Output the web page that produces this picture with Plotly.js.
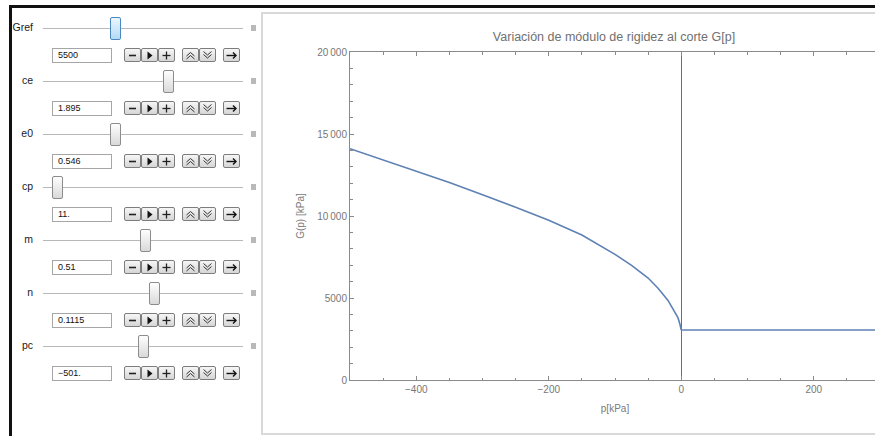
<!DOCTYPE html>
<html>
<head>
<meta charset="utf-8">
<script src="https://cdn.plot.ly/plotly-3.0.1.min.js"></script>
<style>
html,body{margin:0;padding:0;width:875px;height:436px;overflow:hidden;background:#fff;font-family:"Liberation Sans",Arial,sans-serif;}
#panel{position:absolute;left:261px;top:12px;width:800px;height:423px;border:2px solid #d9d9d9;box-sizing:border-box;z-index:0;}
#plot{position:absolute;left:0;top:0;width:900px;height:436px;z-index:1;}
#controls{position:absolute;left:0;top:0;width:258px;height:436px;z-index:2;}
.blk{position:absolute;background:#111;z-index:3;}
.lbl{position:absolute;left:0;width:33px;text-align:right;font-size:10.5px;line-height:14px;color:#1a1a1a;}
.track{position:absolute;left:43px;width:200px;height:1px;background:#b8b8b8;}
.thumb{position:absolute;width:9px;height:21px;border:1px solid #8c8c8c;border-radius:2px;background:linear-gradient(#fefefe,#d9d9d9);}
.thumb.sel{border-color:#4a88bf;background:linear-gradient(#eaf6fe,#b3daf4);}
.sq{position:absolute;left:251px;width:5px;height:6px;background:#b9b9b9;}
.inp{position:absolute;left:52px;width:53px;height:13px;border:1px solid #a6a6a6;background:#fff;font-size:9px;line-height:13px;padding-left:5px;box-sizing:content-box;color:#111;}
.btn{position:absolute;width:15px;height:12px;border:1px solid #7d7d7d;border-radius:2px;background:linear-gradient(#f6f6f6,#d6d6d6);}
.btn svg{position:absolute;left:0;top:0;}
</style>
</head>
<body>
<div id="panel"></div>
<div id="plot"></div>
<div id="controls"></div>
<div class="blk" style="left:9px;top:5px;width:866px;height:3px;"></div>
<div class="blk" style="left:9px;top:5px;width:3px;height:431px;"></div>
<script>
// ---- chart data ----
const pressure = [-500, -450, -400, -350, -300, -250, -200, -150, -100, -75, -50, -35, -20, -10, -5, -2, 0];
const shearModulus = [14100, 13420, 12750, 12040, 11290, 10540, 9740, 8840, 7660, 6990, 6220, 5600, 4850, 4200, 3800, 3400, 3050];
const pressureFlat = [0, 300];
const shearModulusFlat = [3050, 3050];

const xTickVals = [-400, -200, 0, 200];
const xTickText = ['\u2212400', '\u2212200', '0', '200'];
const yTickVals = [0, 5000, 10000, 15000, 20000];
const yTickText = ['0', '5000', '10\u2009000', '15\u2009000', '20\u2009000'];

// ---- control panel content ----
const controlNames = ['Gref', 'ce', 'e0', 'cp', 'm', 'n', 'pc'];
const controlValues = ['5500', '1.895', '0.546', '11.', '0.51', '0.1115', '\u2212501.'];
const thumbX = [115, 168, 115, 57, 145, 154, 143];

const icons = {
  minus: '<line x1="4" y1="6.5" x2="11" y2="6.5" stroke="#222" stroke-width="1.6"/>',
  play: '<polygon points="5.5,2.5 5.5,10.5 10.5,6.5" fill="#111"/>',
  plus: '<line x1="3.5" y1="6.5" x2="11.5" y2="6.5" stroke="#222" stroke-width="1.3"/><line x1="7.5" y1="2.5" x2="7.5" y2="10.5" stroke="#222" stroke-width="1.3"/>',
  up: '<polyline points="3.5,7 7.5,3.5 11.5,7" fill="none" stroke="#333" stroke-width="1"/><polyline points="3.5,10 7.5,6.5 11.5,10" fill="none" stroke="#333" stroke-width="1"/>',
  down: '<polyline points="3.5,2.5 7.5,6 11.5,2.5" fill="none" stroke="#333" stroke-width="1"/><polyline points="3.5,5.5 7.5,9 11.5,5.5" fill="none" stroke="#333" stroke-width="1"/>',
  arrow: '<line x1="2.5" y1="6.5" x2="12" y2="6.5" stroke="#111" stroke-width="1.4"/><polyline points="9,3.5 12,6.5 9,9.5" fill="none" stroke="#111" stroke-width="1.4"/>'
};
const buttonDefs = [[124, 'minus'], [141, 'play'], [158, 'plus'], [182, 'up'], [199, 'down'], [223, 'arrow']];

const ctl = document.getElementById('controls');
let html = '';
controlNames.forEach(function (name, i) {
  const sy = 28 + 53 * i;
  html += '<div class="lbl" style="top:' + (sy - 8) + 'px">' + name + '</div>';
  html += '<div class="track" style="top:' + sy + 'px"></div>';
  html += '<div class="sq" style="top:' + (sy - 3) + 'px"></div>';
  html += '<div class="thumb' + (i === 0 ? ' sel' : '') + '" style="left:' + (thumbX[i] - 5) + 'px;top:' + (sy - 11) + 'px"></div>';
  const iy = sy + 20;
  html += '<div class="inp" style="top:' + iy + 'px">' + controlValues[i] + '</div>';
  buttonDefs.forEach(function (b) {
    html += '<div class="btn" style="left:' + b[0] + 'px;top:' + iy + 'px"><svg width="15" height="13">' + icons[b[1]] + '</svg></div>';
  });
});
ctl.innerHTML = html;

const fontFam = '"Liberation Sans", Arial, sans-serif';
const axisColor = '#8a8a8a';

const traces = [
  {x: pressure, y: shearModulus, type: 'scatter', mode: 'lines',
   line: {color: 'rgb(94,129,181)', width: 1.6}, hoverinfo: 'skip'},
  {x: pressureFlat, y: shearModulusFlat, type: 'scatter', mode: 'lines',
   line: {color: 'rgb(94,129,181)', width: 1.6}, hoverinfo: 'skip'}
];

const layout = {
  width: 900, height: 436,
  margin: {l: 350, r: 20, t: 52, b: 56, pad: 0},
  paper_bgcolor: 'rgba(0,0,0,0)', plot_bgcolor: 'rgba(0,0,0,0)',
  showlegend: false,
  font: {family: fontFam, size: 10, color: '#777'},
  title: {text: 'Variación de módulo de rigidez al corte G[p]',
          font: {family: fontFam, size: 12.5, color: '#707070'},
          x: 614 / 900, xref: 'container', xanchor: 'center',
          y: 1 - 37 / 436, yref: 'container', yanchor: 'middle'},
  xaxis: {
    range: [-500, 300], autorange: false,
    tickvals: xTickVals, ticktext: xTickText,
    ticks: 'inside', ticklen: 4, tickwidth: 1, tickcolor: axisColor,
    minor: {dtick: 50, tick0: 0, ticks: 'inside', ticklen: 2.5, tickcolor: axisColor, showgrid: false},
    showline: true, linecolor: axisColor, linewidth: 1, mirror: 'ticks',
    showgrid: false, zeroline: true, zerolinecolor: '#6e6e6e', zerolinewidth: 1,
    tickfont: {family: fontFam, size: 10, color: '#777'},
    title: {text: 'p[kPa]', font: {family: fontFam, size: 10, color: '#7a7a7a'}, standoff: 10},
    automargin: false, fixedrange: true
  },
  yaxis: {
    range: [0, 20000], autorange: false,
    tickvals: yTickVals, ticktext: yTickText,
    ticks: 'inside', ticklen: 4, tickwidth: 1, tickcolor: axisColor,
    minor: {dtick: 1000, tick0: 0, ticks: 'inside', ticklen: 2.5, tickcolor: axisColor, showgrid: false},
    showline: true, linecolor: axisColor, linewidth: 1, mirror: 'ticks',
    showgrid: false, zeroline: false,
    tickfont: {family: fontFam, size: 10, color: '#777'},
    title: {text: 'G(p) [kPa]', font: {family: fontFam, size: 10, color: '#7a7a7a'}, standoff: 10},
    automargin: false, fixedrange: true
  }
};

Plotly.newPlot('plot', traces, layout, {displayModeBar: false, staticPlot: true});
</script>
</body>
</html>
